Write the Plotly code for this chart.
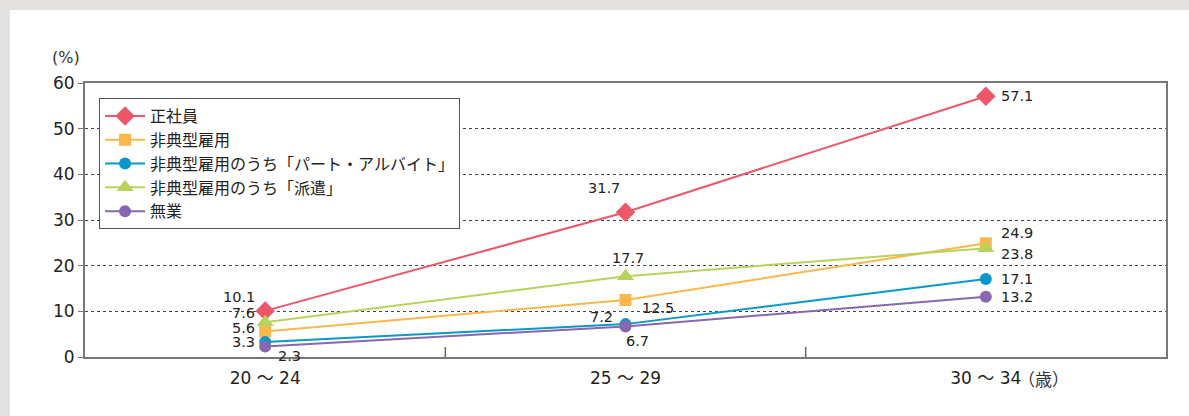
import plotly.graph_objects as go

# Age groups and share (%) by employment status
categories = ["20 ～ 24", "25 ～ 29", "30 ～ 34"]
series_names = [
    "正社員",
    "非典型雇用",
    "非典型雇用のうち「パート・アルバイト」",
    "非典型雇用のうち「派遣」",
    "無業",
]
seishain = [10.1, 31.7, 57.1]
hitenkei = [5.6, 12.5, 24.9]
part_arbeit = [3.3, 7.2, 17.1]
haken = [7.6, 17.7, 23.8]
mugyo = [2.3, 6.7, 13.2]
y_ticks = [0, 10, 20, 30, 40, 50, 60]

values = [seishain, hitenkei, part_arbeit, haken, mugyo]
colors = ["#EC5868", "#F9B84A", "#0898C9", "#B7D35C", "#8767AE"]
symbols = ["diamond", "square", "circle", "triangle-up", "circle"]
sizes = [15, 12, 12, 15, 12]

FONT = "DejaVu Sans, Noto Sans CJK JP, sans-serif"
JFONT = "Noto Sans CJK JP, DejaVu Sans, sans-serif"

fig = go.Figure()
for name, vals, c, s, sz in zip(series_names, values, colors, symbols, sizes):
    fig.add_trace(go.Scatter(
        x=categories, y=vals, name=name, mode="lines+markers",
        line=dict(color=c, width=2),
        marker=dict(symbol=s, size=sz, color=c),
    ))

# value label placement: (series index, point index, xanchor, xshift, yshift)
label_pos = [
    (0, 0, "right", -8, 14), (3, 0, "right", -8, 9), (1, 0, "right", -8, 3),
    (2, 0, "right", -8, 0), (4, 0, "left", 11, -9),
    (0, 1, "center", -22, 24), (3, 1, "center", 2, 18), (1, 1, "left", 14, -8),
    (2, 1, "right", -11, 7), (4, 1, "center", 12, -15),
    (0, 2, "left", 13, 0), (1, 2, "left", 13, 10), (3, 2, "left", 13, -6),
    (2, 2, "left", 13, 0), (4, 2, "left", 13, 0),
]
for si, pi, xa, xs, ys in label_pos:
    fig.add_annotation(
        x=categories[pi], y=values[si][pi], text=f"{values[si][pi]:.1f}",
        showarrow=False, xanchor=xa, yanchor="middle", xshift=xs, yshift=ys,
        font=dict(family=FONT, size=14.5, color="#222"),
    )

# unit labels
fig.add_annotation(x=-0.018, y=1.0, xref="paper", yref="paper", text="(%)",
                   showarrow=False, xanchor="center", yanchor="bottom", yshift=14,
                   font=dict(family=FONT, size=16, color="#333"))
fig.add_annotation(x=2, y=0, xref="x", yref="paper", text="（歳）",
                   showarrow=False, xanchor="left", yanchor="top", xshift=30, yshift=-7,
                   font=dict(family=JFONT, size=17, color="#333"))

# page frame: grey strips along the top and left edges
fig.add_shape(type="rect", xref="paper", yref="paper", x0=-0.08, x1=1.03,
              y0=1.2664, y1=1.31, fillcolor="#E2E1DF", line_width=0, layer="below")
fig.add_shape(type="rect", xref="paper", yref="paper", x0=-0.08, x1=-0.0694,
              y0=-0.3, y1=1.31, fillcolor="#E2E1DF", line_width=0, layer="below")

# category separators on the x axis
for xv in [0.5, 1.5]:
    fig.add_shape(type="line", xref="x", yref="y", x0=xv, x1=xv, y0=0, y1=2.2,
                  line=dict(color="#666", width=1.5))

fig.update_layout(
    width=1189, height=416,
    margin=dict(l=85, r=23, t=83, b=59),
    paper_bgcolor="white", plot_bgcolor="white",
    font=dict(family=FONT, color="#222"),
    legend=dict(
        x=0.013, y=0.945, xanchor="left", yanchor="top",
        bgcolor="white", bordercolor="#555", borderwidth=1,
        font=dict(family=JFONT, size=16, color="#222"),
        itemwidth=40, tracegroupgap=0,
    ),
    xaxis=dict(
        type="category", range=[-0.5, 2.5], showgrid=False,
        showline=True, linecolor="#777", linewidth=2, mirror=True,
        ticks="", ticklabelstandoff=5,
        tickfont=dict(family=FONT, size=17, color="#222"),
    ),
    yaxis=dict(
        range=[0, 60], tickvals=y_ticks, showgrid=True,
        gridcolor="#444", griddash="3px,3px", gridwidth=1,
        showline=True, linecolor="#777", linewidth=2, mirror=True,
        ticks="outside", ticklen=5, tickcolor="#777",
        tickfont=dict(family=FONT, size=17, color="#222"), zeroline=False,
    ),
)

fig.write_html("out.html")
